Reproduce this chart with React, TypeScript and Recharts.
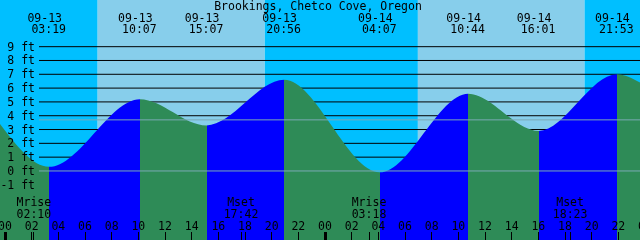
import React from "react";
import {
  ComposedChart,
  Area,
  XAxis,
  YAxis,
  ReferenceArea,
  ReferenceLine,
} from "recharts";

const TITLE = "Brookings, Chetco Cove, Oregon";
const FIRST_DAY = "09-13";

// high / low waters
const TIDE_DATES = ["09-13", "09-13", "09-13", "09-13", "09-14", "09-14", "09-14", "09-14"];
const TIDE_TIMES = ["03:19", "10:07", "15:07", "20:56", "04:07", "10:44", "16:01", "21:53"];
const TIDE_FT = [0.3, 5.2, 3.3, 6.6, -0.1, 5.6, 2.9, 7.0];
// water level where the plot starts and ends
const EDGE_FT = [3.4, 6.4];

const SUN_DATES = ["09-13", "09-14"];
const SUNRISE = ["06:57", "06:58"];
const SUNSET = ["19:29", "19:28"];

const MOON_DATES = ["09-13", "09-13", "09-14", "09-14"];
const MOON_EVENTS = ["Mrise", "Mset", "Mrise", "Mset"];
const MOON_TIMES = ["02:10", "17:42", "03:18", "18:23"];

const FT_TICKS = [-1, 0, 1, 2, 3, 4, 5, 6, 7, 8, 9];
const GRID_FT = [1, 2, 3, 4, 5, 6, 7, 8, 9];
const DATUM_FT = [0, 3.7];
const HOUR_TICKS = [0, 2, 4, 6, 8, 10, 12, 14, 16, 18, 20, 22, 24, 26, 28, 30, 32, 34, 36, 38, 40, 42, 44, 46, 48];

const W = 640;
const H = 240;
const X_MIN = -0.375;
const X_MAX = 47.625;
const Y_MIN = -5;
const Y_MAX = 12.38;
const GRID_START = 2.55;

const NIGHT = "#00bfff";
const DAY = "#87ceeb";
const FLOOD = "#0000ff";
const EBB = "#2e8b57";
const DATUM = "#7aaab4";
const FONT = "'DejaVu Sans Mono', monospace";
const FS = 11.5;

const toHours = (date: string, time: string) => {
  const [h, m] = time.split(":").map(Number);
  return (date === FIRST_DAY ? 0 : 24) + h + m / 60;
};

const tideHours = TIDE_TIMES.map((t, i) => toHours(TIDE_DATES[i], t));
const moonHours = MOON_TIMES.map((t, i) => toHours(MOON_DATES[i], t));

const tideData = [
  { t: X_MIN, ft: EDGE_FT[0] },
  ...tideHours.map((t, i) => ({ t, ft: TIDE_FT[i] })),
  { t: X_MAX, ft: EDGE_FT[1] },
];

// hard colour stops: rising water blue, falling water green
const stops: { offset: number; color: string }[] = [];
for (let i = 0; i < tideData.length - 1; i++) {
  const a = tideData[i];
  const b = tideData[i + 1];
  const color = b.ft > a.ft ? FLOOD : EBB;
  stops.push({ offset: (a.t - X_MIN) / (X_MAX - X_MIN), color });
  stops.push({ offset: (b.t - X_MIN) / (X_MAX - X_MIN), color });
}

const skyEdges = [X_MIN];
SUNRISE.forEach((r, i) => {
  skyEdges.push(toHours(SUN_DATES[i], r));
  skyEdges.push(toHours(SUN_DATES[i], SUNSET[i]));
});
skyEdges.push(X_MAX);

const near = (a: number, b: number) => Math.abs(a - b) < 1e-6;
const pad = (n: number) => String(n).padStart(2, "0");

const textStyle = { fontFamily: FONT, fontSize: FS, fill: "#000" };

const TopTick = ({ x, payload }: any) => {
  const i = tideHours.findIndex((h) => near(h, payload.value));
  if (i < 0) return null;
  return (
    <g>
      <text x={x - 4.5} y={21.5} textAnchor="middle" {...textStyle}>
        {TIDE_DATES[i]}
      </text>
      <text x={x - 0.5} y={33} textAnchor="middle" {...textStyle}>
        {TIDE_TIMES[i]}
      </text>
    </g>
  );
};

const TitleLabel = () => (
  <text x={W / 2 - 2} y={10} textAnchor="middle" {...textStyle}>
    {TITLE}
  </text>
);

const BottomTick = ({ x, payload }: any) => {
  const v = payload.value;
  const m = moonHours.findIndex((h) => near(h, v));
  if (m >= 0) {
    return (
      <g>
        <line x1={x} x2={x} y1={H - 8} y2={H} stroke="#000" shapeRendering="crispEdges" />
        <text x={x} y={206} textAnchor="middle" {...textStyle}>
          {MOON_EVENTS[m]}
        </text>
        <text x={x} y={218} textAnchor="middle" {...textStyle}>
          {MOON_TIMES[m]}
        </text>
      </g>
    );
  }
  const midnight = v % 24 === 0;
  return (
    <g>
      <line
        x1={x}
        x2={x}
        y1={H - 8}
        y2={H}
        stroke="#000"
        strokeWidth={midnight ? 3 : 1}
        shapeRendering="crispEdges"
      />
      <text x={x} y={230} textAnchor="middle" {...textStyle}>
        {pad(v % 24)}
      </text>
    </g>
  );
};

const FtTick = ({ y, payload }: any) => (
  <text x={35} y={y} textAnchor="end" dominantBaseline="central" {...textStyle}>
    {`${payload.value} ft`}
  </text>
);

export default function App() {
  return (
    <div style={{ position: "fixed", left: 0, top: 0, width: W, height: H }}>
      <ComposedChart
        width={W}
        height={H}
        data={tideData}
        margin={{ top: 0, right: 0, bottom: 0, left: 0 }}
      >
        <defs>
          <linearGradient id="tideFill" x1="0" y1="0" x2="1" y2="0">
            {stops.map((s, i) => (
              <stop key={i} offset={s.offset} stopColor={s.color} />
            ))}
          </linearGradient>
        </defs>

        <XAxis
          dataKey="t"
          type="number"
          domain={[X_MIN, X_MAX]}
          allowDataOverflow
          ticks={[...HOUR_TICKS, ...moonHours]}
          interval={0}
          mirror
          axisLine={false}
          tickLine={false}
          tick={<BottomTick />}
        />
        <XAxis
          xAxisId="top"
          dataKey="t"
          type="number"
          orientation="top"
          domain={[X_MIN, X_MAX]}
          allowDataOverflow
          ticks={tideHours}
          interval={0}
          mirror
          axisLine={false}
          tickLine={false}
          tick={<TopTick />}
          label={<TitleLabel />}
        />
        <YAxis
          type="number"
          domain={[Y_MIN, Y_MAX]}
          allowDataOverflow
          ticks={FT_TICKS}
          interval={0}
          mirror
          axisLine={false}
          tickLine={false}
          tick={<FtTick />}
        />

        {skyEdges.slice(0, -1).map((x1, i) => (
          <ReferenceArea
            key={`sky-${i}`}
            x1={x1}
            x2={skyEdges[i + 1]}
            y1={Y_MIN}
            y2={Y_MAX}
            fill={i % 2 === 0 ? NIGHT : DAY}
            fillOpacity={1}
            stroke="none"
            zIndex={10}
          />
        ))}

        {GRID_FT.map((v) => (
          <ReferenceLine
            key={`grid-${v}`}
            segment={[
              { x: GRID_START, y: v },
              { x: X_MAX, y: v },
            ]}
            stroke="#000"
            strokeWidth={1}
            zIndex={20}
          />
        ))}

        <Area
          dataKey="ft"
          type="monotone"
          stroke="none"
          fill="url(#tideFill)"
          fillOpacity={1}
          baseValue="dataMin"
          dot={false}
          activeDot={false}
          isAnimationActive={false}
          zIndex={100}
        />

        {DATUM_FT.map((v) => (
          <ReferenceLine
            key={`datum-${v}`}
            segment={[
              { x: GRID_START, y: v },
              { x: X_MAX, y: v },
            ]}
            stroke={DATUM}
            strokeWidth={1}
            zIndex={150}
          />
        ))}
      </ComposedChart>
    </div>
  );
}
